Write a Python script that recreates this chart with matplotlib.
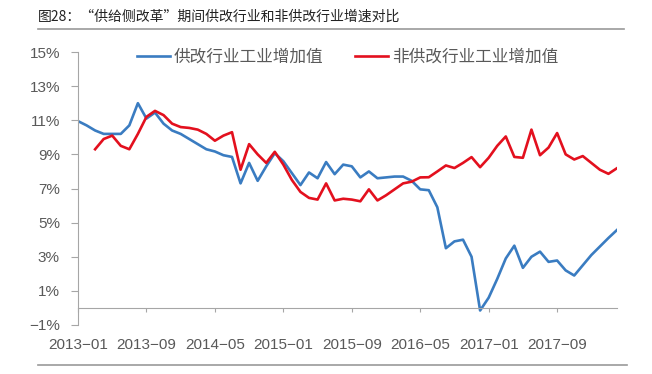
import numpy as np
import matplotlib
matplotlib.use("Agg")
import matplotlib.pyplot as plt

plt.rcParams['font.family'] = ['Liberation Sans', 'Noto Sans CJK SC', 'DejaVu Sans']

title = "图28：“供给侧改革”期间供改行业和非供改行业增速对比"
name_blue = "供改行业工业增加值"
name_red = "非供改行业工业增加值"

# monthly, 2013-01 .. 2018-04
tick_labels = ["2013-01", "2013-09", "2014-05", "2015-01",
               "2015-09", "2016-05", "2017-01", "2017-09"]
blue = [10.95, 10.7, 10.4, 10.2, 10.2, 10.2, 10.7, 12.0, 11.1, 11.45,
        10.8, 10.4, 10.2, 9.9, 9.6, 9.3, 9.17, 8.95, 8.85, 7.3,
        8.5, 7.45, 8.3, 9.07, 8.6, 7.9, 7.2, 7.94, 7.6, 8.55,
        7.84, 8.4, 8.3, 7.65, 8.0, 7.6, 7.65, 7.7, 7.7, 7.45,
        6.95, 6.9, 5.9, 3.5, 3.9, 4.0, 3.0, -0.15, 0.6, 1.7,
        2.9, 3.65, 2.35, 3.0, 3.3, 2.7, 2.78, 2.2, 1.9, 2.5,
        3.1, 3.6, 4.1, 4.57]
red = [np.nan, np.nan, 9.3, 9.9, 10.1, 9.5, 9.3, 10.2, 11.2, 11.55,
       11.3, 10.8, 10.6, 10.55, 10.45, 10.2, 9.8, 10.1, 10.3, 8.1,
       9.6, 9.0, 8.5, 9.15, 8.4, 7.5, 6.8, 6.45, 6.35, 7.3,
       6.3, 6.4, 6.35, 6.25, 6.95, 6.3, 6.6, 6.95, 7.3, 7.4,
       7.65, 7.66, 8.0, 8.35, 8.2, 8.5, 8.84, 8.25, 8.8, 9.5,
       10.05, 8.85, 8.8, 10.45, 8.95, 9.4, 10.25, 9.0, 8.7, 8.9,
       8.5, 8.1, 7.86, 8.19]
yticks = [-1, 1, 3, 5, 7, 9, 11, 13, 15]

x = np.arange(len(blue))
gray = "#595959"
axc = "#A6A6A6"

fig = plt.figure(figsize=(6.52, 3.74), dpi=100)
ax = fig.add_axes([78/652, 1-325/374, (617-78)/652, (325-52)/374])

ax.plot(x, blue, color="#3A7CC1", lw=1.9, label=name_blue, solid_joinstyle="round")
ax.plot(x, red, color="#E3101E", lw=1.9, label=name_red, solid_joinstyle="round")

ax.set_xlim(0, len(blue) - 1)
ax.set_ylim(-1, 15)
ax.set_yticks(yticks)
ax.set_yticklabels([f"{v}%".replace("-", "\u2212") for v in yticks])
ax.set_xticks(np.arange(0, len(blue), 8)[:len(tick_labels)])
ax.set_xticklabels([t.replace("-", "\u2212") for t in tick_labels])

for s in ["top", "right"]:
    ax.spines[s].set_visible(False)
ax.spines["bottom"].set_position(("data", 0))
ax.spines["left"].set_color(axc)
ax.spines["bottom"].set_color(axc)
ax.tick_params(axis="y", colors=axc, labelcolor=gray, labelsize=11, length=5, pad=8)
ax.tick_params(axis="x", colors=axc, labelcolor=gray, labelsize=11, length=3, pad=19)

leg = ax.legend(loc="center left", bbox_to_anchor=(137/652, 1-57/374),
                bbox_transform=fig.transFigure, ncol=2, frameon=False,
                prop={'family': ['Noto Sans CJK SC'], 'size': 12},
                handlelength=2.0, handletextpad=0.2, columnspacing=1.9,
                borderpad=0, borderaxespad=0)
for t in leg.get_texts():
    t.set_color(gray)

fig.text(38/652, 1-17/374, title, family=['Noto Sans CJK SC'], fontsize=10,
         color="#222222", va="center", ha="left")
fig.add_artist(plt.Line2D([38/652, 624/652], [1-29/374, 1-29/374],
                          color="#999999", lw=1.2))
fig.add_artist(plt.Line2D([38/652, 627/652], [1-365/374, 1-365/374],
                          color="#999999", lw=1.2))

fig.savefig("out.png", dpi=100)
